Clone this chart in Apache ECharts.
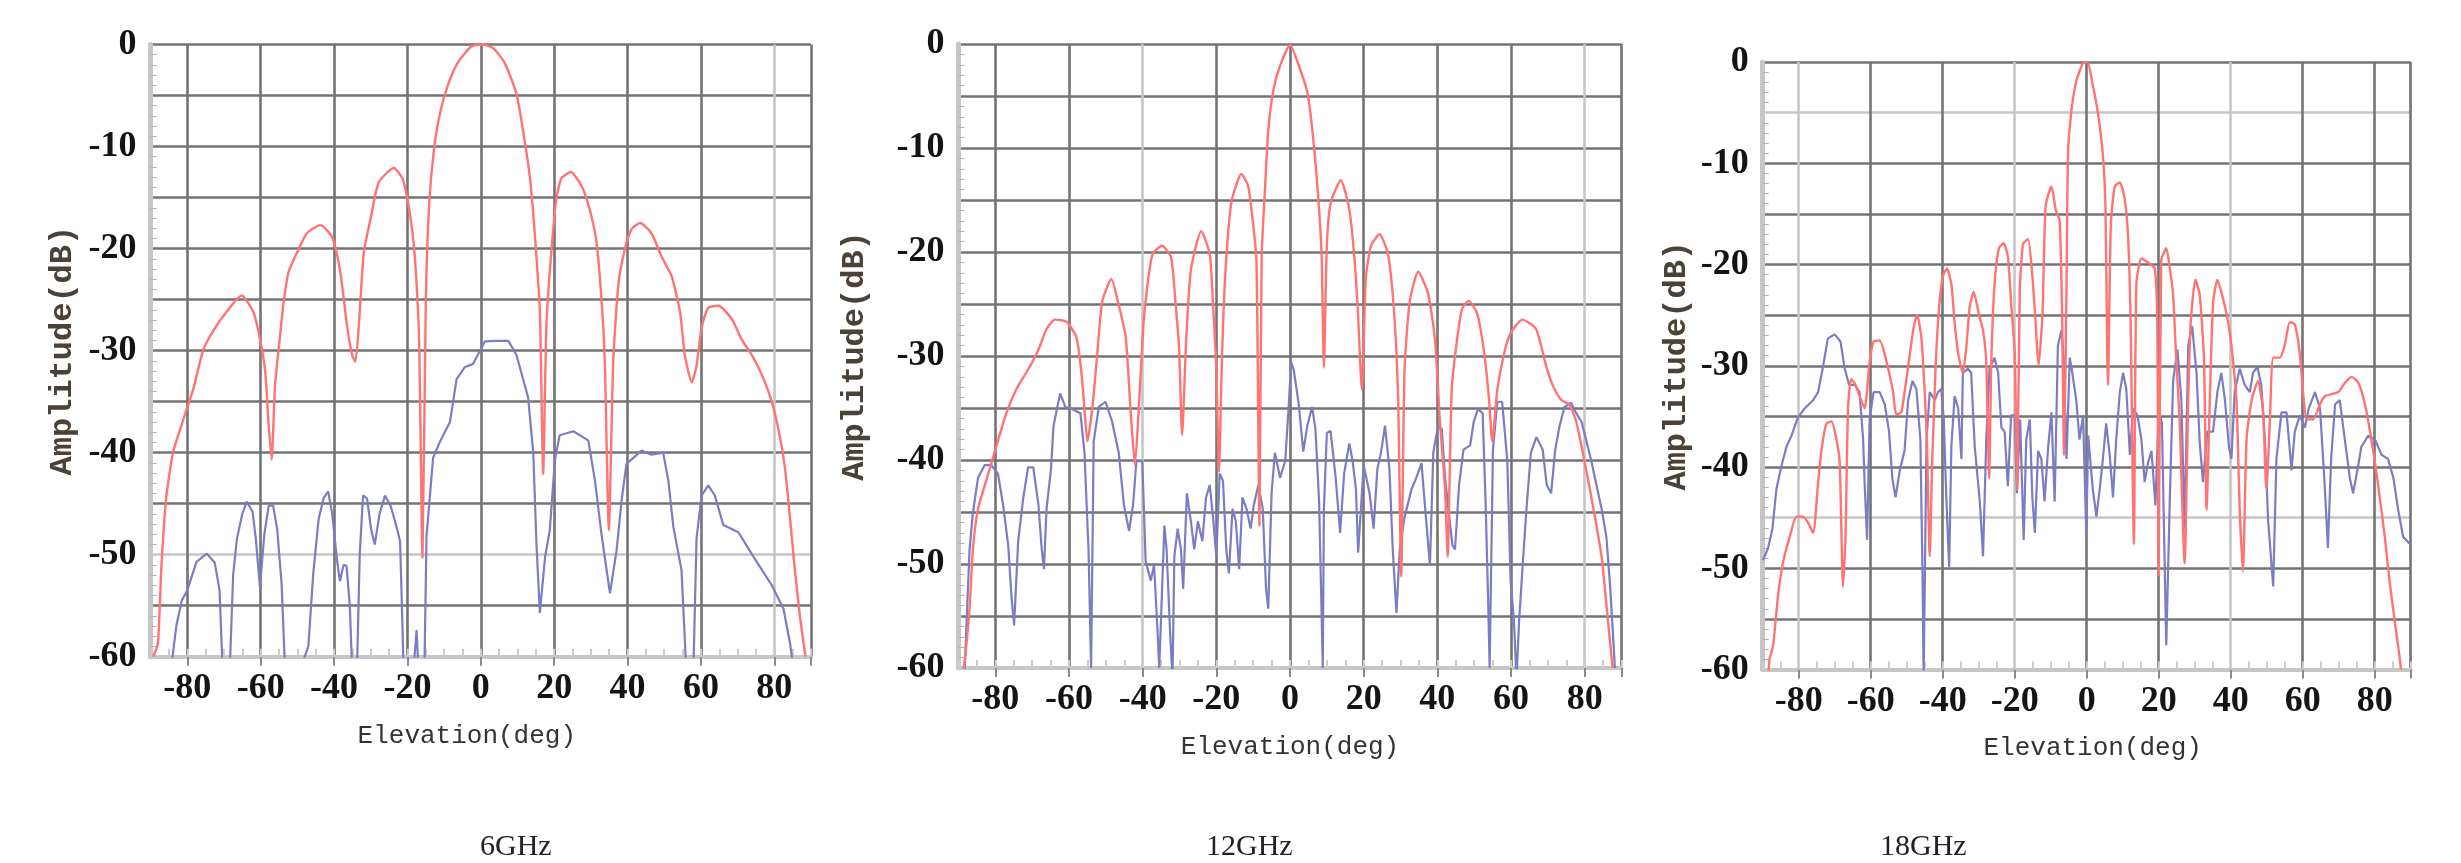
<!DOCTYPE html>
<html><head><meta charset="utf-8">
<script src="https://cdn.jsdelivr.net/npm/echarts@6/dist/echarts.min.js"></script>
<style>html,body{margin:0;padding:0;background:#fff}#c{width:2461px;height:863px}</style>
</head><body><div id="c"></div><script>
// ---- data ----
const PANEL_TITLES = ['6GHz', '12GHz', '18GHz'];
const ELEV_TICKS = [-80, -60, -40, -20, 0, 20, 40, 60, 80];
const AMP_TICKS = [0, -10, -20, -30, -40, -50, -60];

const co6 = [[-89.3,-60],[-88,-58.7],[-87.1,-51.5],[-85.8,-44.6],[-83.9,-40],[-81.2,-36.9],[-78.4,-33.8],[-75.7,-30],[-73,-28.1],[-69.3,-26.2],[-65.2,-24.6],[-62,-26.2],[-60.4,-28.5],[-58.8,-31.9],[-57.9,-36.9],[-57,-40.7],[-56.1,-33.4],[-54.9,-29.2],[-53.8,-25.4],[-52.4,-22.3],[-50.1,-20.4],[-47.4,-18.5],[-43.7,-17.7],[-40.5,-18.9],[-38.3,-22.3],[-36.4,-27.7],[-35.1,-30.4],[-34.2,-31.1],[-33.2,-27.3],[-31.9,-20.4],[-30,-17],[-27.8,-13.5],[-23.7,-12.1],[-21.4,-13.1],[-20,-15.1],[-18.6,-18.5],[-17.7,-22.3],[-16.8,-29.2],[-15.9,-50.3],[-15,-25.4],[-14.1,-15.8],[-12.7,-10.1],[-10.9,-6.4],[-9,-4],[-6.3,-1.8],[-2.6,-0.2],[0.5,0],[3.5,-0.4],[6.5,-1.8],[9.7,-4.8],[11.5,-8.4],[13.4,-13.1],[14.7,-18.5],[16.1,-26.2],[17,-42.1],[17.9,-27.3],[19.3,-20],[20.6,-15.1],[22,-13.1],[24.5,-12.5],[27.5,-13.9],[29.7,-16.2],[31.5,-19.3],[32.9,-25],[33.8,-31.1],[34.9,-47.6],[36.1,-31.1],[37.5,-23.5],[39.3,-20],[41.1,-18.1],[43.4,-17.5],[46.5,-18.5],[49.3,-20.8],[52,-22.7],[54.3,-26.2],[55.6,-30.4],[57.5,-33.1],[58.8,-31.5],[60.2,-27.7],[62,-25.8],[64.7,-25.6],[68.4,-26.9],[71.1,-28.9],[73.8,-30.4],[76.5,-32.3],[79.3,-35],[81.5,-38.4],[82.9,-41.5],[84.3,-46.5],[85.6,-51.5],[87,-56.1],[88.5,-60]];

const cx6 = [[-84.7,-62],[-83,-57],[-81.5,-54.5],[-80,-53.5],[-77.5,-50.7],[-74.7,-49.9],[-72.5,-50.8],[-71.2,-53.5],[-70.3,-62],[-68.5,-62],[-67.5,-52],[-66.5,-48.5],[-65,-46],[-63.8,-44.8],[-62.2,-45.8],[-61.3,-48.5],[-60.2,-53.2],[-59,-48],[-57.8,-45.2],[-56.6,-45.2],[-55.5,-47.5],[-54.3,-52.8],[-53.5,-60],[-52,-62],[-49,-61],[-47,-59],[-45.7,-52],[-44.2,-46.5],[-42.8,-44.4],[-41.6,-43.8],[-40.5,-46],[-39.2,-50.5],[-38.4,-52.6],[-37.4,-51],[-36.6,-51.1],[-35.7,-55],[-35,-62],[-33.8,-62],[-33,-50],[-32.1,-44.2],[-31,-44.5],[-29.9,-47.5],[-28.9,-49],[-27.6,-46],[-26.1,-44.2],[-24.5,-45.3],[-22.8,-47.5],[-22,-48.7],[-21.5,-55],[-21,-62],[-18.5,-62],[-17.5,-57.4],[-16.9,-62],[-15.4,-62],[-14.8,-48.2],[-13,-40.5],[-11.1,-38.9],[-8.4,-37],[-6.6,-32.8],[-4.3,-31.6],[-2.1,-31.3],[1.1,-29.1],[4,-29.05],[7.5,-29.05],[9.7,-30.4],[12.9,-34.6],[14.3,-40],[15.2,-49.2],[16.1,-55.7],[17.5,-50.3],[18.8,-47.6],[20.2,-40.7],[21.5,-38.3],[25.2,-37.9],[29.3,-38.8],[31.1,-42.7],[32.9,-48],[35.2,-53.8],[37,-49.6],[38.4,-44.6],[39.7,-41.1],[43.8,-39.8],[46.5,-40.2],[49.7,-40],[51.1,-42.7],[52.5,-47.3],[54.7,-51.5],[56.1,-62],[57.9,-62],[58.8,-48.4],[60.2,-44.2],[62,-43.2],[63.8,-44.2],[66.1,-47.1],[70.2,-47.8],[73.8,-49.9],[79.3,-53],[82.5,-55.3],[84.3,-58.7],[85.5,-62]];

const co12 = [[-88.6,-60],[-88.2,-59],[-87,-54.3],[-86.1,-48.6],[-84.7,-44.7],[-82.5,-42],[-80,-39],[-77,-35.5],[-74.3,-33.2],[-71.1,-31.3],[-68.3,-29.4],[-66.1,-27.4],[-63.8,-26.5],[-60.7,-26.7],[-58,-28.2],[-56.6,-31.7],[-55.8,-35.1],[-55,-38.2],[-53.7,-35.1],[-52.4,-30.1],[-51,-24.8],[-48.5,-22.6],[-46.5,-25.1],[-44.6,-28.2],[-43.3,-35.1],[-42.1,-40.5],[-41,-34.7],[-39.8,-27],[-38.7,-23.2],[-37.3,-20.2],[-34.8,-19.4],[-32.3,-20.5],[-31.1,-24.8],[-30.1,-29.4],[-29.3,-37.6],[-28.2,-28.6],[-26.9,-21.7],[-24.1,-18],[-21.8,-20.2],[-20.9,-25.1],[-20,-31.3],[-19.3,-41.1],[-18.4,-29.4],[-17.5,-21.7],[-15.9,-15.2],[-13.2,-12.5],[-11.4,-13.6],[-10.2,-16.7],[-9.1,-20.9],[-8.3,-46.3],[-7.7,-20.5],[-6.8,-14],[-5.9,-8.3],[-4.5,-4.4],[-2.7,-2.1],[0,-0.1],[2.8,-2.5],[4.8,-4.8],[6.5,-9.8],[7.9,-15.9],[8.6,-20.5],[9.2,-31.1],[10,-19.4],[11.1,-15.2],[13.8,-13.1],[16.1,-15.9],[17.4,-20.2],[18.4,-25.5],[19.5,-33.2],[20.6,-22.5],[22,-19.4],[24.3,-18.3],[26.6,-20.2],[28.2,-25.5],[29.3,-33.2],[30.2,-51.2],[31.1,-31.3],[32.5,-24.8],[34.8,-21.9],[37.5,-24],[39.4,-28.6],[40.7,-36.3],[42.1,-42.8],[42.8,-49.3],[43.9,-33.2],[45.3,-28.6],[46.7,-25.5],[48.5,-24.7],[50.8,-25.9],[52.6,-29.4],[54,-34],[54.9,-38.2],[56.3,-33.2],[58.1,-29.8],[59.9,-27.8],[63.1,-26.5],[66.8,-27.4],[69.5,-30.9],[71.3,-32.8],[73.6,-34.2],[75.9,-34.7],[77.7,-36.3],[79.5,-39.3],[81.4,-42.8],[83.2,-46.3],[84.6,-49.3],[85.9,-53.9],[87.3,-59],[87.6,-60]];

const cx12 = [[-88.6,-62],[-88.2,-59],[-87,-48.6],[-86.1,-45.1],[-84.7,-41.7],[-82.9,-40.5],[-81.1,-40.5],[-79.3,-41.3],[-77.9,-44.3],[-76.5,-48.2],[-75.6,-53.2],[-74.9,-55.9],[-73.8,-47.8],[-72.4,-43.6],[-71.1,-40.7],[-69.7,-40.7],[-68.3,-44.3],[-67.4,-48.6],[-66.8,-50.5],[-66.1,-44.7],[-64.9,-40.9],[-64.2,-36.7],[-62.4,-33.6],[-61,-34.9],[-59.2,-35.1],[-56.9,-35.5],[-55.8,-39.3],[-54.7,-48.6],[-54,-60],[-53.3,-38.2],[-51.9,-34.9],[-50.1,-34.4],[-48.3,-36.3],[-46.5,-39.3],[-45.1,-44.3],[-43.7,-46.8],[-42.6,-44.3],[-41.7,-40.1],[-40.1,-40.1],[-39.2,-49.7],[-37.8,-51.6],[-36.9,-50.1],[-36,-56.2],[-35.5,-60],[-34.1,-46.3],[-33.5,-48.6],[-32.6,-56.2],[-31.9,-61],[-31.4,-49.3],[-30.5,-46.6],[-29.6,-48.6],[-29,-52.4],[-28,-43.2],[-26.9,-45.9],[-26,-48.6],[-25,-45.9],[-23.8,-47.8],[-22.8,-43.6],[-21.8,-42.4],[-20.9,-45.5],[-20,-49.3],[-19.1,-41.3],[-18.2,-42],[-17.3,-48.6],[-16.6,-50.9],[-15.6,-44.7],[-14.7,-45.9],[-13.8,-50.5],[-12.9,-43.6],[-11.8,-44.7],[-10.7,-46.6],[-9.8,-44.3],[-8.6,-42.4],[-7.4,-44.7],[-6.5,-52.4],[-5.9,-54.3],[-5,-43.2],[-4.1,-39.3],[-2.7,-41.7],[-1.3,-40.1],[-0.4,-35.1],[0.3,-30.6],[1,-31.3],[2.4,-34.7],[3.6,-39.2],[4.7,-36.7],[6,-34.9],[6.9,-37],[7.9,-44],[8.6,-55.1],[8.9,-60],[9.2,-44.7],[10,-37.4],[11,-37.2],[12.4,-41.7],[13.6,-47],[14.7,-41.3],[16.1,-38.4],[17,-40.1],[17.9,-42.8],[18.5,-48.9],[20,-40.5],[21.6,-43.2],[22.7,-46.6],[23.7,-40.9],[24.7,-39.3],[25.8,-36.7],[27,-40.9],[27.9,-48.6],[28.9,-54.7],[29.8,-48.6],[31.1,-45.5],[33,-42.8],[34.3,-41.7],[35.7,-40.3],[36.8,-45.1],[38,-50.1],[38.9,-39.3],[40.1,-36.9],[41.2,-37],[42.1,-41.7],[43,-44.7],[44.1,-48.2],[44.8,-48.6],[45.9,-42.4],[47.1,-39],[48.9,-38.6],[49.9,-36.3],[51,-35.1],[52.3,-35.5],[53.1,-44],[53.8,-53.6],[54.2,-60],[55.1,-39],[56.3,-34.4],[57.6,-34.4],[59,-40.1],[59.9,-51.6],[60.8,-55.5],[61.5,-61],[62.2,-55.5],[63.1,-50.5],[64.2,-44.7],[65.4,-39.3],[66.9,-37.8],[68.6,-39],[69.7,-42.4],[70.9,-43.2],[72,-39],[73.2,-36.7],[74.5,-34.9],[76.3,-34.5],[77.7,-35.5],[79.1,-36.3],[80.5,-38.2],[81.8,-40.1],[83.2,-42.4],[84.6,-44.7],[85.9,-47.4],[86.8,-51.6],[87.6,-56.2],[88.2,-60]];

const co18 = [[-88.5,-61],[-88.1,-59],[-87.1,-57.6],[-85.7,-52.6],[-84.4,-49.5],[-82.5,-46.9],[-80.6,-44.9],[-78.8,-44.9],[-77.4,-45.5],[-76,-46.5],[-74.6,-41.5],[-73.7,-38.4],[-72.3,-35.7],[-70.9,-35.5],[-69.5,-37.3],[-68.6,-39.6],[-67.7,-51.8],[-67,-46.9],[-66.3,-34.2],[-65.4,-31.3],[-64.2,-31.9],[-63.1,-33],[-61.7,-34.2],[-60.3,-29.6],[-59.2,-27.6],[-57.5,-27.5],[-55.6,-29.6],[-53.8,-32.6],[-52.9,-34.8],[-51.5,-34.6],[-50.6,-32.6],[-49.4,-29.6],[-48.2,-26.5],[-47.1,-25],[-45.9,-27.3],[-45,-32.6],[-44.4,-37.3],[-43.6,-48.8],[-42.9,-39.2],[-41.9,-29.6],[-41,-24.2],[-39.9,-21.1],[-38.8,-20.4],[-37.6,-21.9],[-36.7,-25.7],[-35.7,-28.8],[-34.4,-30.7],[-33.4,-28],[-32.5,-24.2],[-31.4,-22.7],[-29.9,-25],[-28.8,-26.5],[-27.9,-29.6],[-27.1,-41.1],[-26.5,-29.6],[-25.6,-21.9],[-24.4,-18.4],[-23.1,-17.9],[-21.9,-19.2],[-21,-23.8],[-20,-28.8],[-19.3,-42.2],[-18.6,-22.7],[-17.7,-18],[-16.3,-17.5],[-15.1,-21.1],[-14.2,-25.7],[-13.4,-30],[-12.3,-25],[-11.4,-14.2],[-9.8,-12.3],[-8.6,-14.6],[-7.5,-15.7],[-6.8,-25.7],[-6.3,-38.8],[-5.6,-21.9],[-5.2,-9.2],[-4.3,-5],[-2.9,-1.9],[-1,-0.1],[0.2,0],[1.7,-2.3],[3.1,-5],[4.5,-9.2],[5.2,-14.2],[5.7,-28.8],[5.9,-31.9],[6.7,-16.1],[7.8,-12.3],[9.2,-11.9],[10.5,-13.4],[11.5,-17.3],[12.2,-25.7],[13.1,-47.6],[13.8,-21.9],[15.2,-19.4],[17,-19.8],[18.9,-20.4],[19.6,-25.7],[20,-50.7],[20.7,-19.6],[22.1,-18.4],[23.1,-20.4],[24,-23],[24.9,-29.6],[25.8,-35.3],[27.2,-49.5],[28.2,-33.4],[28.9,-25.7],[30.2,-21.5],[31.4,-23],[32.6,-29.6],[33.3,-44.2],[34.2,-33.4],[35.1,-23.8],[36.3,-21.5],[37.9,-23.4],[39.3,-25.7],[40.2,-28],[41.6,-33.4],[42.5,-44.2],[43.4,-50.3],[44.4,-37.3],[45.8,-33.4],[47.6,-31.5],[49,-34.6],[49.9,-42.2],[50.9,-35.3],[51.8,-29.2],[53.6,-29.2],[55,-28],[56.4,-25.7],[57.8,-25.9],[59.2,-28.8],[60.1,-32.6],[61.1,-35.3],[62.9,-35.3],[64.8,-33.8],[66.2,-33],[69.9,-32.6],[71.7,-31.7],[73.6,-31.1],[75.5,-31.7],[77.3,-33.8],[78.7,-36.5],[80.1,-39.6],[81.4,-43],[82.8,-46.9],[84.2,-51.5],[85.6,-55.3],[87,-59],[87.3,-60]];

const cx18 = [[-89.9,-49.2],[-88.5,-48],[-87.3,-46.1],[-86.2,-42.2],[-84.8,-39.9],[-83.4,-38],[-82,-36.9],[-80.2,-35.1],[-78.3,-34.2],[-76,-33.4],[-74.6,-32.6],[-73.2,-30],[-71.9,-27.3],[-70,-26.9],[-68.4,-27.6],[-67.2,-30.3],[-66,-31.9],[-64.4,-31.9],[-63.1,-32.6],[-62.1,-37.3],[-61.7,-41.5],[-61,-47.2],[-60.3,-35.3],[-59.2,-32.6],[-57.5,-32.6],[-56.1,-33.8],[-54.9,-36.5],[-54,-41.1],[-53.1,-43],[-51.9,-40.3],[-50.6,-38.4],[-49.6,-33.4],[-48.4,-31.5],[-47.3,-32.3],[-46.2,-37.3],[-45.6,-50.7],[-45.3,-61],[-44.5,-37.3],[-43.6,-32.6],[-42.2,-33.4],[-41.3,-32.6],[-40.4,-32.3],[-39.7,-35.3],[-39,-43],[-38.2,-49.9],[-37.6,-38],[-36.7,-33],[-35.7,-34.2],[-34.8,-39.2],[-34.4,-30.7],[-33,-30.3],[-32.1,-30.7],[-31.1,-38],[-29.7,-43.4],[-28.8,-48.8],[-27.9,-37.3],[-27,-30.3],[-25.6,-29.2],[-24.6,-30.7],[-23.7,-36.1],[-22.8,-36.5],[-21.9,-41.9],[-21,-34.9],[-20,-34.9],[-19.4,-42.6],[-18.5,-35.3],[-17.5,-47.2],[-16.8,-37.3],[-15.8,-35.3],[-15.1,-43],[-14.4,-46.5],[-13.5,-38.4],[-12.6,-39.2],[-11.7,-43.4],[-10.7,-38],[-9.8,-34.6],[-8.9,-43.4],[-8,-28],[-7,-26.5],[-6.4,-29.2],[-5.6,-39.2],[-4.7,-29.2],[-4,-30.7],[-2.9,-33.4],[-2,-37.3],[-1,-34.9],[-0.1,-46.9],[0.4,-36.9],[1.7,-42.2],[2.7,-44.9],[3.6,-42.2],[4.5,-39.2],[5.4,-35.7],[6.4,-38.8],[7.3,-43],[8.2,-37.3],[9.2,-32.6],[10.1,-30.7],[11,-32.3],[12,-38.8],[12.9,-34.2],[14.1,-34.9],[15.2,-37.3],[16.1,-41.5],[17,-39.6],[18,-38.4],[19.1,-43.8],[20,-34.2],[20.9,-35.7],[22.1,-57.6],[23.1,-43],[24,-31.5],[25.2,-28.4],[26.3,-33.4],[27.2,-46.1],[28.2,-28],[29.3,-26.1],[30.5,-30.7],[31.4,-37.6],[32.3,-41.5],[33.5,-36.5],[35.1,-36.5],[36.3,-32.6],[37.4,-30.7],[38.4,-33.4],[39.5,-38],[40.2,-39.2],[41.1,-32.6],[42.5,-30.3],[43.9,-31.9],[45.3,-32.6],[46.2,-30.7],[47.4,-30.1],[48.5,-31.9],[49.5,-37.3],[50.4,-45.3],[51.8,-51.8],[52.7,-39.2],[54.1,-34.6],[55.5,-34.6],[56.9,-40.3],[57.8,-36.5],[59.2,-34.9],[60.6,-36.1],[61.7,-34.2],[63.4,-32.6],[64.8,-34.2],[66,-41.1],[67,-48],[67.9,-39.2],[69,-33.8],[70.3,-33.4],[71.7,-37.3],[73.1,-41.1],[74,-42.6],[75.2,-40.3],[76.3,-38],[78.2,-36.9],[80.1,-37.3],[81.9,-38.8],[83.7,-39.2],[85.2,-41.1],[86.5,-44.2],[87.9,-46.9],[89.8,-47.6]];

const CO = [co6, co12, co18];
const CX = [cx6, cx12, cx18];

// ---- layout / style ----
const DARK = '#737373', LIGHT = '#c6c6c6';
const L = [
  {left:150.6, top:44.5, width:660.4, height:612.2, yGap:72, xGap:66, xShift:-14, titleX:530,
   yCols:[LIGHT,DARK,LIGHT,DARK,DARK,DARK,DARK,DARK,DARK,DARK,DARK,DARK,DARK],
   xCols:[DARK,DARK,DARK,DARK,DARK,DARK,DARK,DARK,LIGHT,DARK]},
  {left:958.5, top:44, width:663, height:624, yGap:88, xGap:66, xShift:0, titleX:1256,
   yCols:[LIGHT,DARK,DARK,DARK,DARK,DARK,DARK,DARK,DARK,DARK,DARK,DARK,DARK],
   xCols:[DARK,DARK,LIGHT,DARK,DARK,DARK,DARK,DARK,LIGHT,DARK]},
  {left:1762.7, top:62, width:648, height:607.5, yGap:70, xGap:66, xShift:6, titleX:1930,
   yCols:[LIGHT,DARK,DARK,LIGHT,DARK,DARK,DARK,DARK,DARK,DARK,DARK,LIGHT,DARK],
   xCols:[LIGHT,DARK,DARK,LIGHT,DARK,DARK,LIGHT,DARK,DARK,DARK]}
];

const labelFont = {fontFamily:'Liberation Serif', fontWeight:'bold', fontSize:36, color:'#141414'};
const grid = [], xAxis = [], yAxis = [], series = [], graphic = [];
L.forEach((p, i) => {
  grid.push({left:p.left, top:p.top, width:p.width, height:p.height, containLabel:false});
  const pad = p.xShift >= 0 ? [0,0,0,2*p.xShift] : [0,-2*p.xShift,0,0];
  xAxis.push({
    type:'value', gridIndex:i, min:-90, max:90, position:'bottom',
    name:'Elevation(deg)', nameLocation:'middle', nameGap:p.xGap,
    nameTextStyle:{fontFamily:'Liberation Mono', fontSize:26, color:'#333', padding:pad},
    axisLine:{show:true, onZero:false, lineStyle:{color:LIGHT, width:4}},
    axisTick:{show:true, customValues:ELEV_TICKS.concat([90]), length:9, lineStyle:{color:'#8a8a8a', width:2}},
    axisLabel:Object.assign({customValues:ELEV_TICKS, margin:14}, labelFont),
    splitLine:{show:true, lineStyle:{color:p.xCols, width:2.6}}
  });
  yAxis.push({
    type:'value', gridIndex:i, min:-60, max:0, interval:5,
    name:'Amplitude(dB)', nameLocation:'middle', nameRotate:90, nameGap:p.yGap,
    nameTextStyle:{fontFamily:'Liberation Mono', fontWeight:'bold', fontSize:32, color:'#4a4236'},
    axisLine:{show:true, onZero:false, lineStyle:{color:LIGHT, width:5}},
    axisTick:{show:false, inside:true},
    minorTick:{show:true, splitNumber:5, length:6, lineStyle:{color:'#b0b0b0', width:1}},
    axisLabel:Object.assign({customValues:AMP_TICKS, margin:14}, labelFont),
    splitLine:{show:true, lineStyle:{color:p.yCols, width:2.6}}
  });
  series.push({type:'line', name:'co-pol ' + PANEL_TITLES[i], xAxisIndex:i, yAxisIndex:i, data:CO[i],
    showSymbol:false, smooth:0.2, lineStyle:{color:'#ff7373', width:2.4}, itemStyle:{color:'#ff7373'}, z:3});
  series.push({type:'line', name:'cross-pol ' + PANEL_TITLES[i], xAxisIndex:i, yAxisIndex:i, data:CX[i],
    showSymbol:false, smooth:false, lineStyle:{color:'#7c7cc4', width:2.2}, itemStyle:{color:'#7c7cc4'}, z:2});
  graphic.push({type:'text', left:p.titleX - 50, top:832,
    style:{text:PANEL_TITLES[i], fontFamily:'Liberation Serif', fontSize:30, fill:'#222', width:100, align:'center'}});
});
// small inner ticks every 5 deg along the bottom edge (a top-positioned axis shifted down to the bottom edge)
L.forEach((p, i) => {
  xAxis.push({
    type:'value', gridIndex:i, min:-90, max:90, interval:5, position:'top', offset:-p.height,
    axisLine:{show:false}, axisLabel:{show:false}, splitLine:{show:false},
    axisTick:{show:true, inside:false, length:8, lineStyle:{color:'#cccccc', width:2}}
  });
});

const chart = echarts.init(document.getElementById('c'), null, {renderer:'canvas'});
chart.setOption({backgroundColor:'#fff', animation:false, grid, xAxis, yAxis, series, graphic});
</script></body></html>
